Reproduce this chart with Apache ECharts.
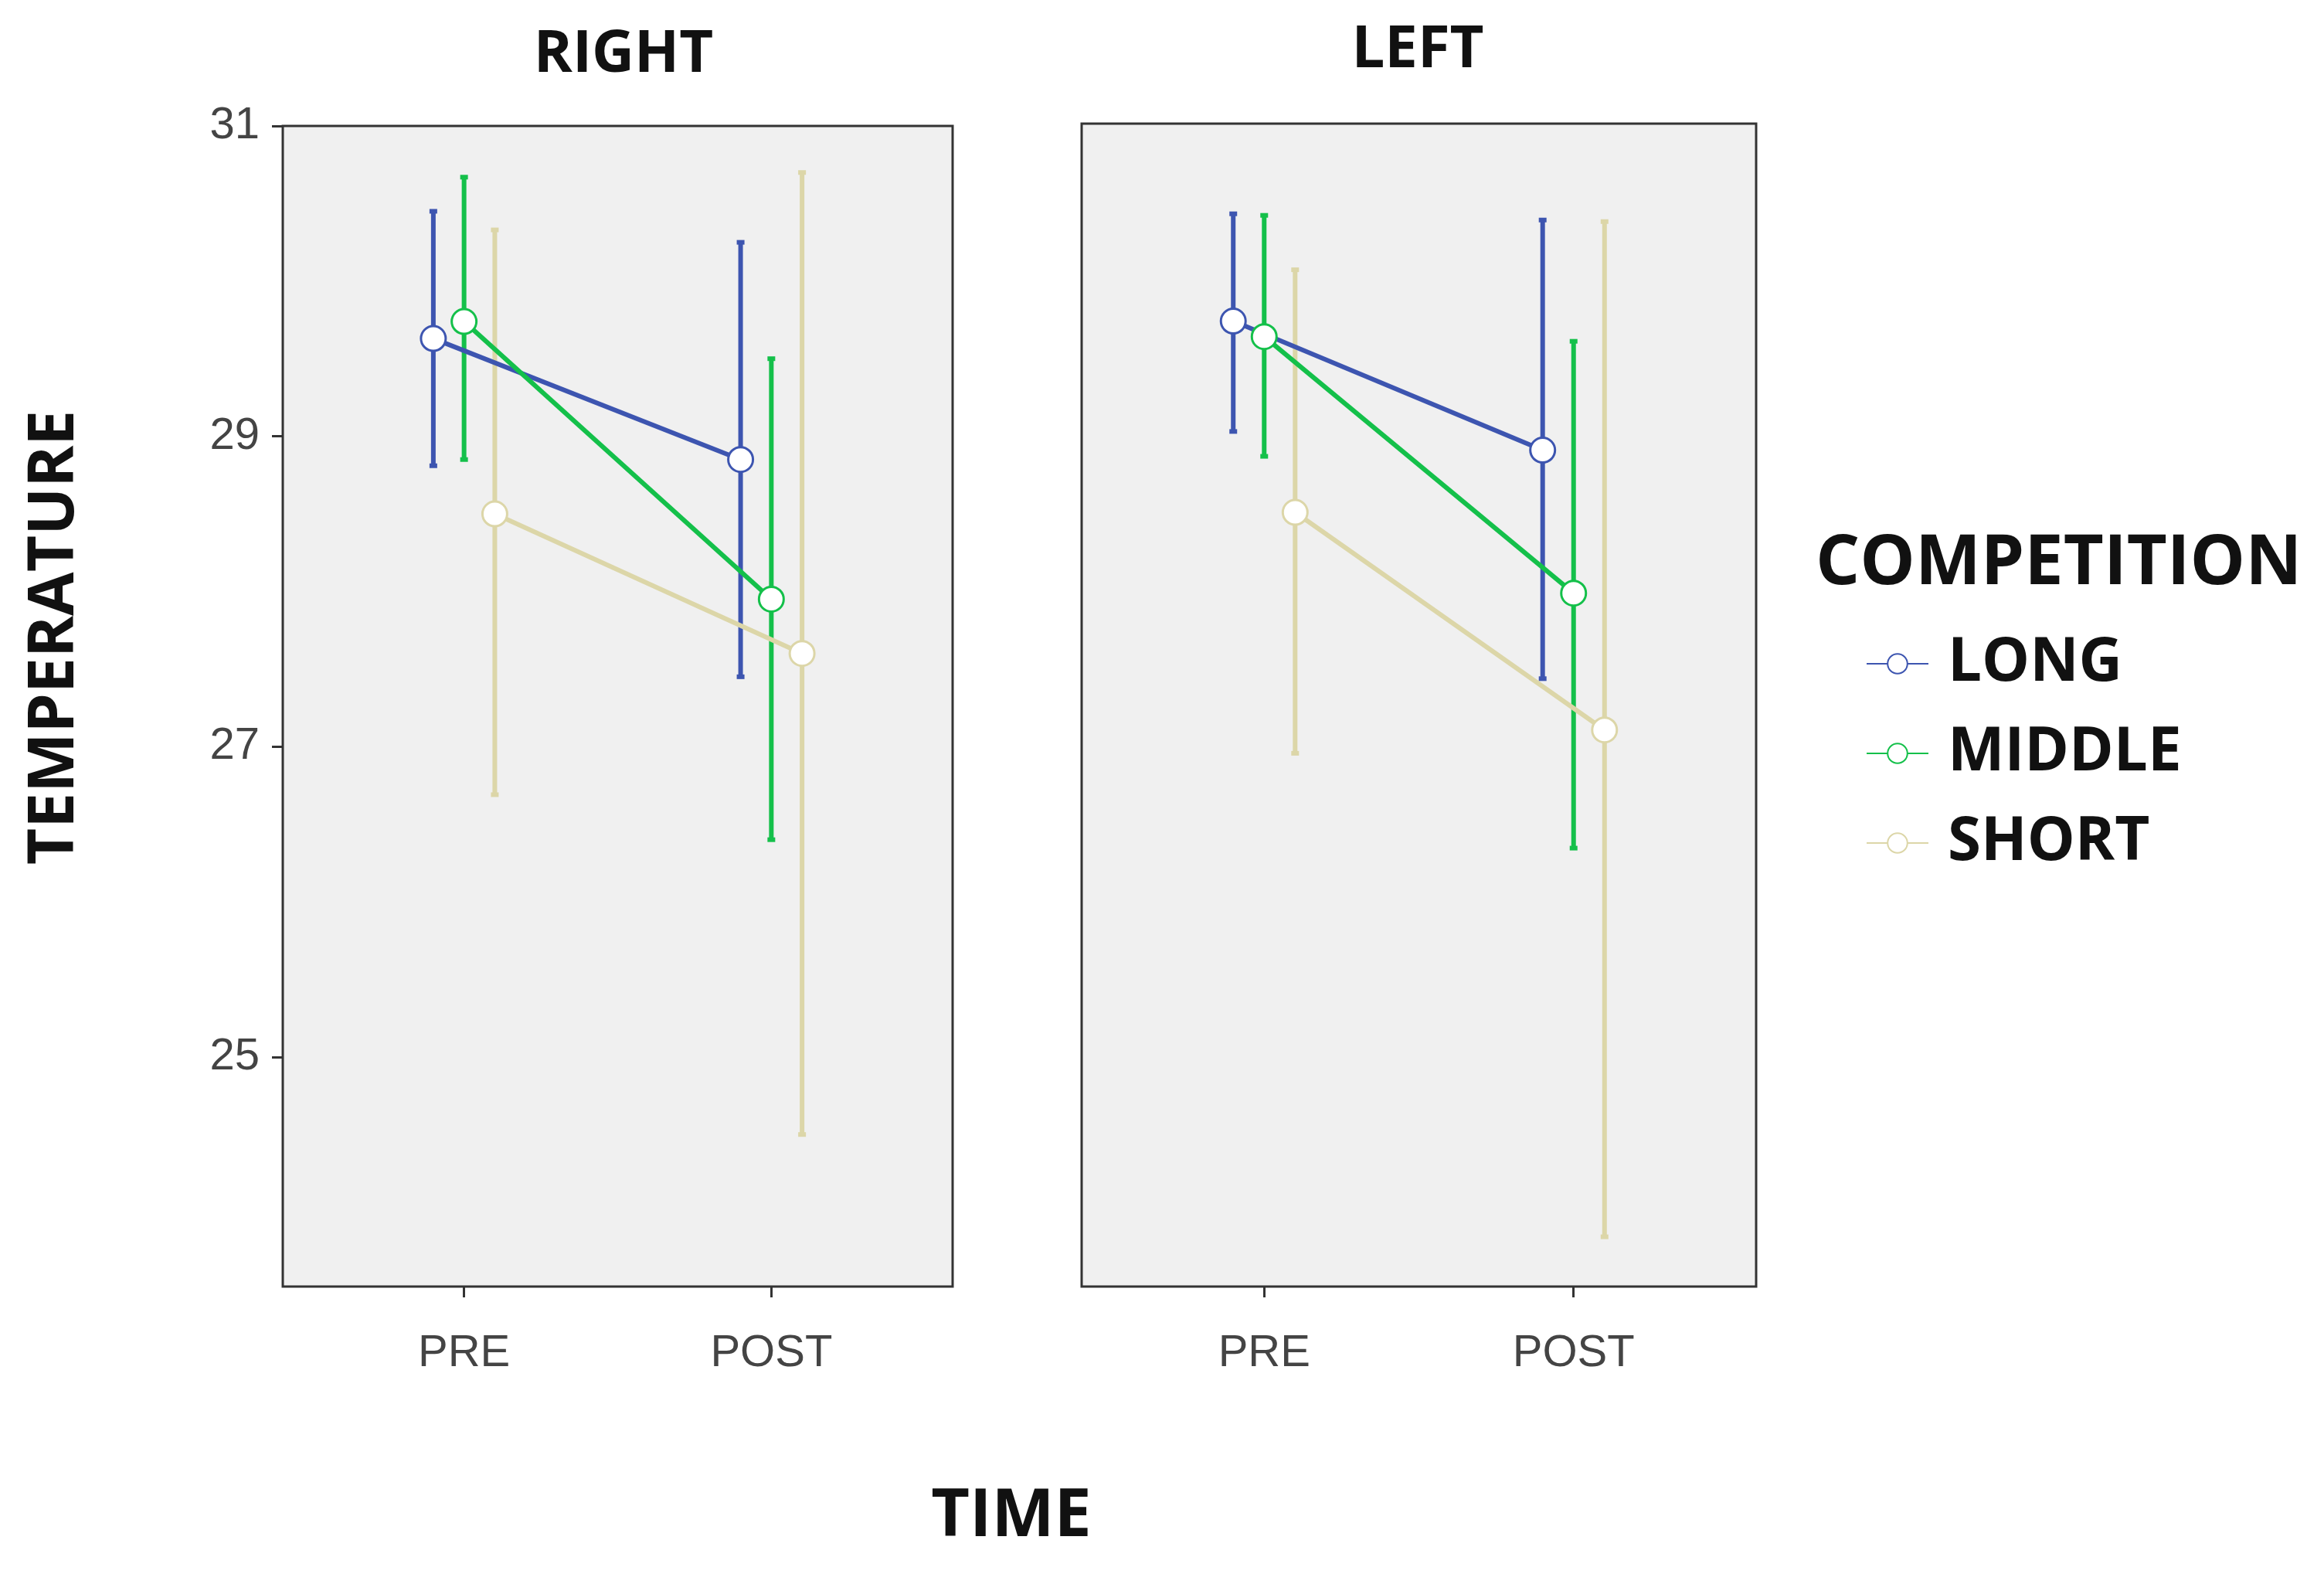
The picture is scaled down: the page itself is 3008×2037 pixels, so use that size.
<!DOCTYPE html>
<html>
<head>
<meta charset="utf-8">
<script src="https://cdn.jsdelivr.net/npm/echarts@6/dist/echarts.min.js"></script>
<style>html,body{margin:0;padding:0;background:#fff}#chart{width:3008px;height:2037px}</style>
</head>
<body>
<div id="chart"></div>
<script>
// time points: PRE = 0, POST = 1
const timeLabels = ['PRE', 'POST'];
const groups = ['LONG', 'MIDDLE', 'SHORT'];
const groupOffset = [-0.1, 0, 0.1];
const groupColors = ['#3d55b0', '#14c04a', '#dcd6a8'];

// RIGHT panel: mean, upper, lower for [PRE, POST]
const rightMean = [[29.63, 28.85], [29.74, 27.95], [28.5, 27.6]];
const rightHigh = [[30.45, 30.25], [30.67, 29.5], [30.33, 30.7]];
const rightLow  = [[28.81, 27.45], [28.85, 26.4], [26.69, 24.5]];

// LEFT panel
const leftMean = [[29.73, 28.9], [29.63, 27.98], [28.5, 27.1]];
const leftHigh = [[30.42, 30.38], [30.41, 29.6], [30.06, 30.37]];
const leftLow  = [[29.02, 27.43], [28.86, 26.34], [26.95, 23.84]];

const yTicks = [25, 27, 29, 31];

const chart = echarts.init(document.getElementById('chart'));

function panelSeries(gridIdx, mean, high, low) {
    const out = [];
    groups.forEach(function (g, i) {
        const errData = [0, 1].map(function (t) {
            return [t + groupOffset[i], low[i][t], high[i][t]];
        });
        out.push({
            name: 'err ' + g,
            type: 'custom',
            xAxisIndex: gridIdx,
            yAxisIndex: gridIdx,
            z: 2,
            renderItem: function (params, api) {
                const x = api.value(0);
                const p1 = api.coord([x, api.value(1)]);
                const p2 = api.coord([x, api.value(2)]);
                const c = 5;
                const st = { stroke: groupColors[i], lineWidth: 6 };
                return {
                    type: 'group',
                    children: [
                        { type: 'line', shape: { x1: p1[0], y1: p1[1], x2: p2[0], y2: p2[1] }, style: st },
                        { type: 'line', shape: { x1: p1[0] - c, y1: p1[1], x2: p1[0] + c, y2: p1[1] }, style: st },
                        { type: 'line', shape: { x1: p2[0] - c, y1: p2[1], x2: p2[0] + c, y2: p2[1] }, style: st }
                    ]
                };
            },
            encode: { x: 0, y: [1, 2] },
            data: errData
        });
        out.push({
            name: g,
            type: 'line',
            xAxisIndex: gridIdx,
            yAxisIndex: gridIdx,
            z: 3,
            symbol: 'circle',
            symbolSize: 32,
            itemStyle: { color: '#ffffff', borderColor: groupColors[i], borderWidth: 3 },
            lineStyle: { color: groupColors[i], width: 6 },
            data: [0, 1].map(function (t) { return [t + groupOffset[i], mean[i][t]]; })
        });
    });
    return out;
}

function xAxis(gridIdx) {
    return {
        type: 'value', gridIndex: gridIdx, min: -0.59, max: 1.59,
        splitLine: { show: false },
        axisLine: { show: false, onZero: false },
        axisTick: { show: true, customValues: [0, 1], length: 14, lineStyle: { color: '#333', width: 3 } },
        axisLabel: {
            customValues: [0, 1], margin: 58, fontSize: 58, color: '#444', fontFamily: 'Liberation Sans',
            formatter: function (v) { return timeLabels[Math.round(v)]; }
        }
    };
}

function yAxis(gridIdx, showLabels) {
    return {
        type: 'value', gridIndex: gridIdx, min: 23.52, max: 31, position: 'left',
        splitLine: { show: false },
        axisLine: { show: false, onZero: false },
        axisTick: { show: showLabels, customValues: yTicks, length: 14, lineStyle: { color: '#333', width: 3 } },
        axisLabel: { show: showLabels, customValues: yTicks, margin: 30, fontSize: 58, color: '#444', fontFamily: 'Liberation Sans' }
    };
}

chart.setOption({
    backgroundColor: '#ffffff',
    title: [
        { text: 'RIGHT', left: 802, top: 28, textAlign: 'center', textStyle: { fontSize: 76, fontWeight: 'bold', color: '#111', fontFamily: 'Open Sans' } },
        { text: 'LEFT', left: 1830, top: 22, textAlign: 'center', textStyle: { fontSize: 76, fontWeight: 'bold', color: '#111', fontFamily: 'Open Sans' } },
        { text: 'TIME', left: 1304, top: 1915, textAlign: 'center', textStyle: { fontSize: 86, fontWeight: 'bold', color: '#111', fontFamily: 'Open Sans' } },
        { text: 'COMPETITION', left: 2345, top: 680, textStyle: { fontSize: 90, fontWeight: 'bold', color: '#111', fontFamily: 'Open Sans' } }
    ],
    graphic: [{
        type: 'text', x: 72, y: 825, rotation: Math.PI / 2, originX: 0, originY: 0,
        style: { text: 'TEMPERATURE', fontSize: 82, fontWeight: 'bold', fill: '#111', fontFamily: 'Open Sans', align: 'center', verticalAlign: 'middle' }
    }],
    legend: {
        data: groups, orient: 'vertical', left: 2410, top: 815, itemGap: 38,
        itemWidth: 80, itemHeight: 32,
        textStyle: { fontSize: 78, fontWeight: 'bold', color: '#111', fontFamily: 'Open Sans', padding: [0, 0, 0, 20] }
    },
    grid: [
        { left: 366, top: 163, width: 867, height: 1502, show: true, backgroundColor: '#f0f0f0', borderColor: '#333', borderWidth: 3 },
        { left: 1400, top: 160, width: 873, height: 1505, show: true, backgroundColor: '#f0f0f0', borderColor: '#333', borderWidth: 3 }
    ],
    xAxis: [xAxis(0), xAxis(1)],
    yAxis: [yAxis(0, true), yAxis(1, false)],
    series: panelSeries(0, rightMean, rightHigh, rightLow).concat(panelSeries(1, leftMean, leftHigh, leftLow))
});
</script>
</body>
</html>
